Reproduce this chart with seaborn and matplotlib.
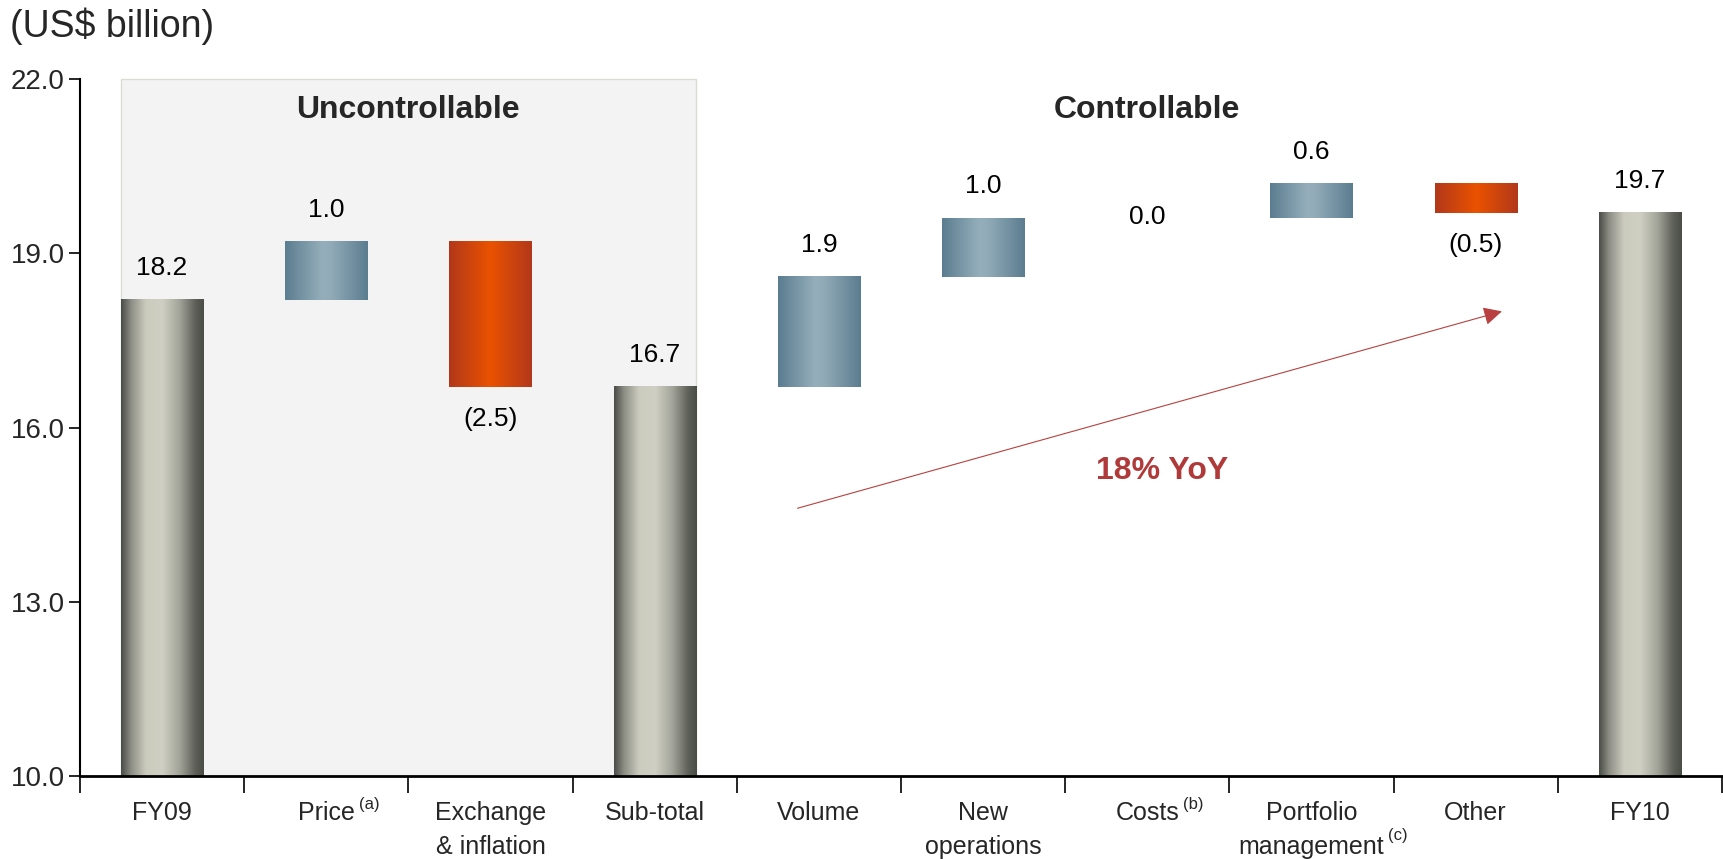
import numpy as np
import pandas as pd
import seaborn as sns
import matplotlib.pyplot as plt
from matplotlib.colors import LinearSegmentedColormap
from matplotlib.patches import Rectangle

# Data
categories = ['FY09', 'Price', 'Exchange\n& inflation', 'Sub-total', 'Volume',
              'New\noperations', 'Costs', 'Portfolio\nmanagement', 'Other', 'FY10']
footnotes = {1: '(a)', 6: '(b)', 7: '(c)'}
values = [18.2, 1.0, -2.5, 16.7, 1.9, 1.0, 0.0, 0.6, -0.5, 19.7]
kinds = ['total', 'up', 'down', 'total', 'up', 'up', 'up', 'up', 'down', 'total']
y_ticks = [10.0, 13.0, 16.0, 19.0, 22.0]

# waterfall levels
lows, highs = [], []
level = 0.0
for v, k in zip(values, kinds):
    if k == 'total':
        lows.append(0.0)
        highs.append(v)
        level = v
    else:
        lows.append(min(level, level + v))
        highs.append(max(level, level + v))
        level = level + v

df = pd.DataFrame({'cat': categories, 'low': lows, 'height': np.array(highs) - np.array(lows)})

sns.set_theme(style='ticks')
plt.rcParams['font.family'] = ['Liberation Sans', 'DejaVu Sans']

fig = plt.figure(figsize=(17.24, 8.59), dpi=100)
ax = fig.add_axes([0.0464, 0.0966, 0.9524, 0.8114])

sns.barplot(data=df, x='cat', y='height', bottom=df['low'], width=0.5, color='grey',
            order=categories, ax=ax, zorder=1, linewidth=0)

cmaps = {
    'total': LinearSegmentedColormap.from_list('tot', [(0, '#4a4c47'), (0.12, '#8c8d84'), (0.3, '#cbcbbe'),
                                                       (0.5, '#cfcfc3'), (0.7, '#a5a69b'), (0.9, '#5d5f58'),
                                                       (1, '#4a4c47')]),
    'up': LinearSegmentedColormap.from_list('up', [(0, '#5b7d90'), (0.45, '#95aebb'), (0.55, '#92abb8'),
                                                   (1, '#5b7d90')]),
    'down': LinearSegmentedColormap.from_list('dn', [(0, '#b2381a'), (0.5, '#ea5200'), (1, '#b2381a')]),
}
grad = np.linspace(0, 1, 256).reshape(1, -1)
bars = list(ax.patches)
for patch, kind in zip(bars, kinds):
    x0, y0 = patch.get_x(), patch.get_y()
    w, h = patch.get_width(), patch.get_height()
    patch.set_facecolor('none')
    if h == 0:
        continue
    ax.imshow(grad, cmap=cmaps[kind], extent=[x0, x0 + w, y0, y0 + h], aspect='auto',
              interpolation='bicubic', zorder=2)

# shaded "uncontrollable" block
ax.add_patch(Rectangle((-0.25, 10), 3.5, 12, facecolor='#f3f3f3', edgecolor='#dcdcd4',
                       linewidth=1, zorder=0, clip_on=False))

# value labels
for i, (v, k) in enumerate(zip(values, kinds)):
    if k == 'down':
        txt = f'({abs(v):.1f})'
        y = lows[i] - 0.55
    else:
        txt = f'{v:.1f}'
        y = highs[i] + (0.55 if highs[i] > lows[i] else 0.03)
    ax.text(i, y, txt, ha='center', va='center', fontsize=19, color='black', zorder=3)

ax.text(1.5, 21.47, 'Uncontrollable', ha='center', va='center', fontsize=23, fontweight='bold')
ax.text(6.0, 21.47, 'Controllable', ha='center', va='center', fontsize=23, fontweight='bold')

# growth arrow
ax.annotate('', xy=(8.16, 18.0), xytext=(3.87, 14.61),
            arrowprops=dict(arrowstyle='-|>', color='#b84040', lw=0.8, mutation_scale=28,
                            shrinkA=0, shrinkB=0))
ax.text(6.09, 15.26, '18% YoY', ha='center', va='center', fontsize=23, fontweight='bold',
        color='#b03a3a')

fig.text(0.006, 0.970, '(US$ billion)', ha='left', va='center', fontsize=27)

ax.set_xlim(-0.5, 9.5)
ax.set_ylim(10, 22)
ax.set_yticks(y_ticks)
ax.set_yticklabels([f'{t:.1f}' for t in y_ticks])
ax.set_xticks(np.arange(-0.5, 10, 1))
ax.set_xticklabels([''] * 11)
ax.set_xticks(range(10), minor=True)
ax.set_xticklabels(categories, minor=True, linespacing=1.5)
ax.tick_params(axis='x', which='major', length=12, width=1.2, color='black')
ax.tick_params(axis='x', which='minor', length=0, pad=18, labelsize=18)
ax.tick_params(axis='y', length=8, width=1.2, labelsize=20, color='black', pad=3)
ax.set_xlabel('')
ax.set_ylabel('')
for s in ['top', 'right']:
    ax.spines[s].set_visible(False)
ax.spines['left'].set_linewidth(1.5)
ax.spines['bottom'].set_linewidth(2)
ax.spines['left'].set_color('black')
ax.spines['bottom'].set_color('black')
ax.set_facecolor('white')

# footnote markers next to category labels
tick_labels = ax.get_xticklabels(minor=True)
for i, note in footnotes.items():
    lbl = tick_labels[i]
    yfrac = 1.0 if '\n' not in categories[i] else 0.46
    ax.annotate(note, xy=(1, yfrac), xycoords=lbl, xytext=(3, 3), textcoords='offset points',
                ha='left', va='top', fontsize=12)

plt.savefig('out.png', dpi=100)
